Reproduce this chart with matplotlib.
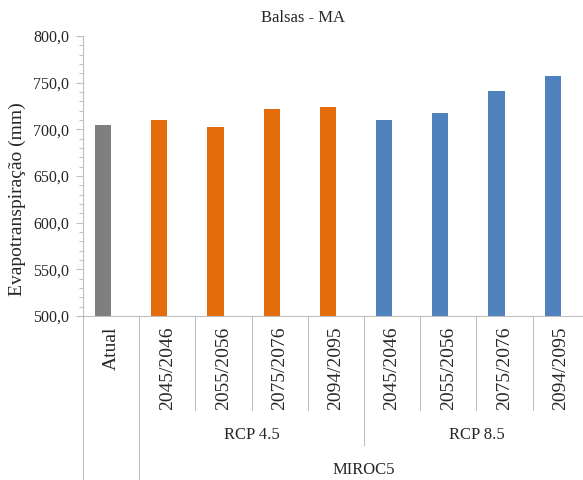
import matplotlib
matplotlib.use("Agg")
import matplotlib.pyplot as plt
from matplotlib.ticker import MultipleLocator, FuncFormatter

plt.rcParams['font.family'] = ['Liberation Serif', 'DejaVu Serif']

# Data
categories = ["Atual", "2045/2046", "2055/2056", "2075/2076", "2094/2095",
              "2045/2046", "2055/2056", "2075/2076", "2094/2095"]
values = [704.5, 710.0, 702.5, 722.0, 723.5, 709.5, 718.0, 741.5, 757.0]
groups = ["Atual", "RCP 4.5", "RCP 4.5", "RCP 4.5", "RCP 4.5",
          "RCP 8.5", "RCP 8.5", "RCP 8.5", "RCP 8.5"]
model_label = "MIROC5"
scenario_labels = ["RCP 4.5", "RCP 8.5"]
title = "Balsas - MA"
ylabel = "Evapotranspiração (mm)"

color_map = {"Atual": "#7f7f7f", "RCP 4.5": "#e46c0a", "RCP 8.5": "#4f81bd"}
colors = [color_map[g] for g in groups]

W, H = 583, 480
fig = plt.figure(figsize=(W / 100, H / 100), dpi=100)
ax = fig.add_axes([83 / W, 1 - 316 / H, (W - 83) / W, 280 / H])

bar_w = 0.285
xs = list(range(len(categories)))
ax.bar([x - bar_w / 2 for x in xs], values, width=bar_w, color=colors, zorder=2)

ax.set_ylim(500, 800)
ax.set_xlim(-0.5, -0.5 + (W - 83) / 56.2)
ax.yaxis.set_major_locator(MultipleLocator(50))
ax.yaxis.set_minor_locator(MultipleLocator(10))
ax.yaxis.set_major_formatter(FuncFormatter(lambda v, p: f"{v:.1f}".replace(".", ",")))

axis_col = "#bfbfbf"
for s in ["top", "right"]:
    ax.spines[s].set_visible(False)
ax.spines["left"].set_color(axis_col)
ax.spines["bottom"].set_color(axis_col)
ax.tick_params(axis="y", which="major", length=5, width=0.8, color=axis_col,
               labelsize=11.5, labelcolor="#262626", pad=5)
ax.tick_params(axis="y", which="minor", length=3, width=0.8, color=axis_col)
ax.set_xticks([])

tr = ax.get_xaxis_transform()
ah = 280.0

def yf(px):
    # pixel offset below the x axis -> axes fraction
    return -(px - 316) / ah

# category separators
for b in [1.5, 2.5, 3.5, 5.5, 6.5, 7.5]:
    ax.plot([b, b], [0, yf(410)], transform=tr, color=axis_col, lw=0.8, clip_on=False)
ax.plot([4.5, 4.5], [0, yf(445)], transform=tr, color=axis_col, lw=0.8, clip_on=False)
for b in [-0.5, 0.5]:
    ax.plot([b, b], [0, yf(482)], transform=tr, color=axis_col, lw=0.8, clip_on=False)

# category labels
for x, lab in zip(xs, categories):
    ax.text(x, yf(327), lab, transform=tr, rotation=90, ha="center", va="top",
            fontsize=14, color="#262626")

# scenario labels
ax.text(2.5, yf(435), scenario_labels[0], transform=tr, ha="center", va="center",
        fontsize=12, color="#262626")
ax.text(6.5, yf(435), scenario_labels[1], transform=tr, ha="center", va="center",
        fontsize=12, color="#262626")
ax.text(4.5, yf(470), model_label, transform=tr, ha="center", va="center",
        fontsize=12, color="#262626")

fig.text(303 / W, 1 - 18 / H, title, ha="center", va="center", fontsize=12, color="#262626")
fig.text(17 / W, 1 - 199 / H, ylabel, rotation=90, ha="center", va="center",
         fontsize=14, color="#262626")

fig.savefig("out.png", dpi=100)
